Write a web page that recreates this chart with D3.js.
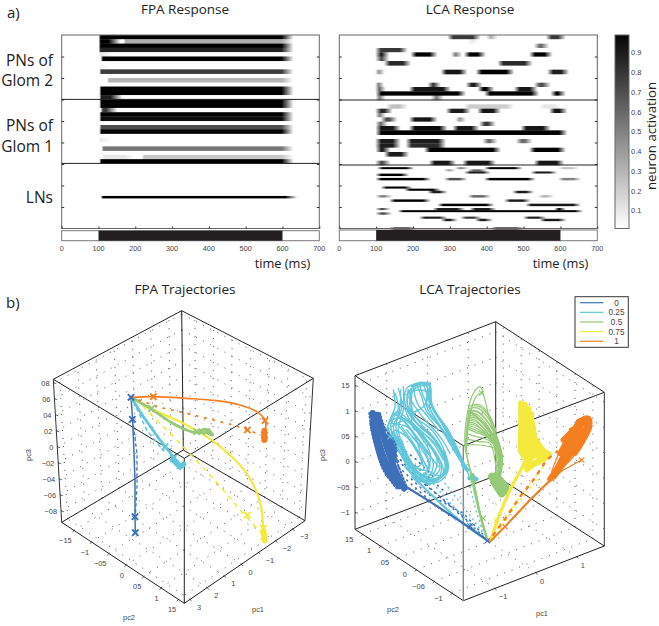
<!DOCTYPE html>
<html><head><meta charset="utf-8">
<script src="https://cdn.jsdelivr.net/npm/d3@7/dist/d3.min.js"></script>
<style>html,body{margin:0;padding:0;background:#fff}svg{display:block}text{font-family:"Liberation Sans",sans-serif;fill:#444}.big{font-family:"Open Sans",sans-serif;fill:#222}</style>
</head><body><svg id="c" width="659" height="626"></svg>
<script>
// ---------- heatmap data: each row is a list of [startMs,endMs,activation]
const timeTicks=[0,100,200,300,400,500,600,700];
const stimulus=[100,600];
const colorTicks=[0.1,0.2,0.3,0.4,0.5,0.6,0.7,0.8,0.9];
const fpaGlom2=[[[102,600,1]],[[102,130,1],[170,600,.32]],[[102,600,1]],[[102,600,.88]],[[102,108,.1]],[[108,600,1]],[],[[102,106,.05]],[[104,600,.78]],[],[[125,600,.3]],[],[[104,600,1]],[[104,600,1]],[[104,135,.9]]];
const fpaGlom1=[[[104,600,1]],[[104,600,1]],[[108,122,.8]],[[104,600,1]],[[104,600,.97]],[],[[104,600,.7]],[[104,600,1]],[],[[102,108,.08]],[],[[110,600,.55]],[],[[112,170,.1],[220,600,.22]],[[104,600,1]]];
const fpaLN=[[],[],[],[],[],[],[],[],[],[],[],[],[],[],[],[[108,610,1]],[],[],[],[],[],[],[],[],[],[],[],[],[],[]];
const lcaGlom2=[[[300,372,.8],[405,418,.3],[567,603,.8]],[[355,365,.08]],[[535,558,.6]],[[104,174,.8]],[[104,124,.9],[200,255,1],[310,322,.5],[345,386,1],[522,567,1]],[[105,124,.7]],[[128,183,.85],[436,513,.85]],[],[[104,112,.4],[282,336,.95],[377,463,1],[571,612,.9]],[],[],[[104,110,.5],[246,264,.8],[350,377,.9],[535,562,.7]],[[104,114,.6],[196,291,.95],[382,409,1],[481,526,.95]],[[105,332,1],[400,531,1],[580,603,1]],[[105,114,.5],[255,272,.5]]];
const lcaGlom1=[[],[[133,174,.25],[345,463,.2],[548,590,.1]],[[104,133,.85],[296,345,.9],[381,427,.95],[576,607,.95]],[[105,114,.5]],[[119,146,.7],[196,255,.95],[322,332,.4]],[[105,119,.6],[386,413,.8]],[[105,155,.95],[196,282,.97],[314,368,.95],[499,562,.95]],[[105,607,1]],[],[[104,155,.9],[187,278,.9],[395,418,.6],[486,513,.6]],[[104,155,.9],[187,278,.85]],[[105,128,.9],[237,427,1],[522,603,1]],[[128,178,.9]],[],[[104,128,.7],[250,305,.95],[341,413,.95],[535,599,.95]]];
const lcaLN=[[],[[109,192,1],[320,340,.5],[400,486,1],[600,640,.25]],[[290,305,.4],[355,390,.6]],[[345,400,.9],[526,580,.9]],[[105,178,1]],[],[[105,237,1],[291,336,.7],[400,521,1],[600,645,.5]],[],[],[],[[119,187,1]],[[183,264,1]],[[246,282,.9],[476,517,.9]],[],[[105,132,.5],[355,400,.6],[545,572,.3]],[],[[142,237,1],[454,508,.9]],[],[[273,409,1],[512,644,.95]],[],[[105,128,.7],[260,330,.9],[360,415,.9],[590,603,1]],[[165,650,1]],[[105,132,.7]],[],[[223,282,.9],[335,375,.8],[505,550,.9]],[[282,310,.9],[375,405,.9],[550,605,.9]],[],[],[],[[142,196,.9],[418,490,.9]]];

// ---------- trajectory data, in reference picture plane units
const legendLabels=["0","0.25","0.5","0.75","1"];
const seriesColors=["#3d70b8","#62c7db","#96ca78","#f3ea3c","#f47e20"];
const fpaBlue=[[393,352],[398,420],[402,520],[405,600],[405,710],[406,758]];
const fpaBlueDash=[[398,420],[411,520],[411,620],[406,710]];
const fpaCyan=[[393,352],[430,410],[480,480],[520,530],[543,556]];
const fpaCyanDash=[[410,385],[440,450],[490,512]];
const fpaCyanBlob=[[518,540],[540,562],[552,552]];
const fpaGreen=[[393,352],[450,385],[510,425],[560,450],[590,458],[605,450],[625,450],[638,465],[618,458],[595,458]];
const fpaYellow=[[393,352],[450,385],[540,425],[620,470],[690,525],[740,580],[770,635],[785,690],[790,750],[793,780]];
const fpaYellowDash=[[410,360],[460,410],[540,490],[640,595],[720,690],[790,765]];
const fpaOrange=[[393,352],[460,350],[560,355],[650,362],[720,375],[770,395],[795,420],[797,450],[793,478]];
const fpaOrangeDash=[[393,352],[480,382],[560,400],[640,420],[700,435],[742,450],[775,462]];
const fpaBlobs=[[[790,755],[794,782]],[[793,452],[793,480]]];
const fpaMarkers=[[[393,352],[397,418],[405,710],[406,758]],[[495,500],[520,535]],[[455,385],[590,455],[620,455]],[[742,705],[790,745],[792,770]],[[460,350],[795,422],[742,450],[793,465]]];

const lcaBlueBlob=[[[128,400],[135,440],[150,500],[172,560],[208,618]],[[142,405],[155,450],[172,505],[195,570],[222,625]],[[128,430],[142,495],[160,550],[195,605]],[[172,470],[185,500],[190,540]]];
const lcaBlueEdge=[[[118,400],[125,450],[140,510],[160,570],[200,625]],[[150,400],[165,445],[195,490],[200,540],[232,625]]];
const lcaBlueTail=[[215,612],[300,665],[400,730],[478,785]];
const lcaBlueDots=[[[190,530],[280,610],[380,690],[460,770]],[[175,500],[240,570],[340,660],[430,740]],[[205,560],[290,640],[400,700],[470,775]],[[200,510],[270,570],[350,640]],[[185,480],[260,540],[320,600]],[[230,600],[320,680],[440,755]]];
const lcaCyan=[
[[190,330],[195,380],[175,440],[200,500],[240,560],[280,600],[330,595],[350,560],[335,510],[300,460],[250,420],[225,370],[230,325],[270,310],[300,320],[305,380],[355,450],[400,545],[420,595]],
[[205,325],[215,385],[190,440],[215,510],[255,570],[295,605],[340,585],[345,540],[315,480],[270,440],[235,390],[240,330],[285,312],[295,330],[300,385],[345,465],[395,550]],
[[220,320],[220,390],[205,450],[230,520],[270,580],[310,600],[345,570],[335,520],[295,470],[250,445],[245,385],[250,330],[290,318],[290,380],[335,450],[385,530]],
[[185,440],[235,420],[280,470],[320,530],[310,580],[265,580],[225,520],[205,470]],
[[175,430],[230,440],[275,490],[310,550],[295,590],[250,570],[215,500]],
[[200,400],[250,440],[300,500],[335,560],[320,600],[270,600],[230,540],[195,470]],
[[215,360],[245,430],[290,480],[330,540],[340,580],[300,610],[255,580],[225,530],[185,460]],
[[240,340],[250,400],[280,440],[320,490],[345,540],[345,580]],
[[225,345],[265,330],[295,340],[280,380],[240,400]],
[[180,425],[200,395],[225,410],[265,460],[300,520],[290,570],[255,560]],
[[195,450],[230,470],[265,520],[280,570],[245,550],[215,480]],
[[260,315],[275,350],[290,395],[330,440],[370,490],[400,555]],
[[210,410],[255,470],[275,530],[300,575],[335,590]],
[[195,340],[205,385],[182,435],[205,505],[250,575],[290,610],[335,600],[355,565],[340,505],[305,450],[255,410],[232,375],[235,330]],
[[212,330],[210,380],[198,445],[222,515],[262,575],[303,600],[350,575],[342,525],[305,465],[262,432],[240,385],[245,325]],
[[182,420],[220,415],[270,455],[310,515],[330,565],[300,595],[258,575],[222,510],[190,455]],
[[188,400],[225,425],[265,480],[295,540],[285,585],[240,560],[208,490],[180,445]],
[[230,450],[270,500],[300,560],[270,590]],
[[215,440],[260,505],[295,570]],
[[200,430],[245,490],[275,550],[250,565]],
[[245,470],[285,510],[325,560]],
[[260,440],[310,490],[340,540]],
[[250,320],[262,370],[290,405],[325,450]],
[[235,350],[255,380],[285,420],[330,470],[360,520]],
[[268,312],[285,360],[320,420],[365,490],[395,540]],
[[280,312],[298,360],[335,430],[375,500]],
[[175,435],[172,445],[210,520],[255,590],[300,615]]];
const lcaCyanThick=[[[300,320],[305,375],[350,450],[390,530],[412,570]],[[245,318],[270,309],[300,312]],[[290,600],[330,592],[350,560],[340,515]]];
const lcaCyanTail=[[[245,590],[300,640],[400,730],[470,782]],[[225,560],[280,620],[380,715],[455,770]]];
const lcaCyanBlob=[[[418,595],[440,597]],[[428,585],[430,605]],[[398,555],[412,570]]];
const lcaCyanDots=[[[430,605],[445,680],[470,770]],[[345,610],[400,680],[460,760]],[[300,600],[380,690],[450,760]],[[420,620],[440,700],[465,765]]];
const lcaGreen=[
[[470,775],[450,700],[430,600],[405,500],[412,400],[430,340],[450,320],[462,350],[480,420],[500,480],[515,540],[505,590]],
[[470,775],[445,690],[425,600],[410,510],[418,420],[435,355],[455,335]],
[[416,385],[445,385],[475,415],[497,460],[510,500],[510,550],[500,590]],
[[418,390],[445,395],[470,420],[495,465],[512,510],[505,560]],
[[416,397],[440,403],[468,430],[492,470],[515,520],[505,585]],
[[416,405],[440,412],[465,438],[490,475],[512,525],[498,590]],
[[414,415],[440,422],[462,445],[488,480],[507,530],[510,590]],
[[413,425],[438,432],[460,455],[490,490],[505,535],[505,595]],
[[412,435],[440,445],[465,462],[490,492],[500,540],[512,600]],
[[410,445],[440,458],[470,470],[497,500],[510,545]],
[[408,460],[440,470],[475,480],[505,515],[495,580]],
[[407,475],[445,485],[480,490],[495,540],[498,590]],
[[425,375],[450,375],[478,405],[497,450]],
[[405,495],[450,495],[495,505],[512,520]],
[[418,378],[448,380],[478,410],[498,455]],
[[416,393],[445,398],[472,425],[498,468],[514,515]],
[[415,410],[442,417],[468,442],[493,480],[512,530]],
[[413,420],[440,427],[465,450],[492,485],[508,530]],
[[412,430],[440,438],[468,458],[494,490],[506,540]],
[[411,440],[440,452],[470,466],[496,495],[512,550],[510,590]],
[[498,470],[515,525],[505,590]],[[503,480],[518,535],[510,595]],[[495,475],[510,530],[498,590]],[[492,480],[505,540],[490,590]]];
const lcaGreenThick=[[[472,778],[450,700],[435,630],[425,585]],[[418,395],[440,410],[470,440],[495,475]],[[408,500],[412,440],[420,390]]];
const lcaGreenBlob=[[[486,590],[510,610],[530,632]],[[492,605],[515,640]],[[500,590],[525,620]]];
const lcaYellow=[[[572,368],[572,450],[572,505],[590,545]],[[584,372],[590,450],[620,520]],[[605,402],[600,470],[605,520],[640,528]],[[596,385],[600,450],[630,510]],[[590,560],[600,530],[610,470]],[[620,480],[640,510],[658,522]],[[575,480],[600,520],[650,530],[610,555],[590,570]],[[575,400],[578,470],[580,520],[600,540]],[[590,420],[585,480],[610,530]],[[570,510],[590,540],[620,550]],[[610,500],[640,520],[620,545],[595,560]],[[600,400],[610,440],[615,490]]];
const lcaYellowFan=[[585,375],[590,430],[585,490],[600,530]];
const lcaYellowTail=[[482,782],[510,700],[545,620],[575,565],[590,530]];
const lcaYellowDots=[[[485,770],[540,690],[600,610],[640,560]],[[495,770],[555,680],[620,600]]];
const lcaOrangeLine=[[485,782],[525,740],[600,660],[660,600],[700,570],[755,540]];
const lcaOrangeTail=[[480,785],[525,740],[600,660],[665,597]];
const lcaOrangeBlob=[[[660,597],[690,550],[720,490],[750,440],[772,420]],[[672,590],[705,545],[745,490],[775,430]],[[700,480],[740,440],[770,415]],[[745,425],[775,415],[778,440],[755,480]],[[685,570],[720,510],[700,510]],[[735,480],[760,470],[770,440]],[[690,520],[720,470],[745,430],[765,415]],[[770,420],[778,440],[760,480],[735,520]],[[725,450],[745,470],[755,450]],[[700,530],[730,500],[750,470]]];
const lcaOrangeThin=[[[680,575],[720,520],[750,500]],[[670,575],[705,505],[740,450]],[[665,575],[700,490],[745,425]],[[700,560],[730,530],[760,470]]];
const lcaOrangeDash=[[490,765],[530,710],[570,650],[610,600],[650,540],[680,515]];
const lcaMarkers=[[[420,738],[472,782]],[[180,470],[430,597],[405,560]],[[455,340],[460,715],[430,600]],[[500,720],[603,405],[590,560]],[[525,740],[755,540],[665,597]]];

// ---------- axis tick labels (as printed in the figure)
const fpaPc3Labels=["08","06","04","02","0","−02","−04","−06","−08"];
const fpaPc2Labels=["−15","−1","−05","0","05","1","15"];
const fpaPc1Labels=["−3","−2","−1","0","1","2","3"];
const lcaPc3Labels=["15","1","05","0","−05","−1"];
const lcaPc2Labels=["15","1","05","0","−06","−1"];
const lcaPc1Labels=["−1","0","1"];

const svg=d3.select("#c"),defs=svg.append("defs");
defs.append("filter").attr("id","soft").attr("x","-2%").attr("y","-2%").attr("width","104%").attr("height","104%")
  .append("feGaussianBlur").attr("stdDeviation","0.6 0.7");
defs.append("filter").attr("id","soft2").attr("filterUnits","userSpaceOnUse").attr("x",0).attr("y",280).attr("width",659).attr("height",346)
  .append("feGaussianBlur").attr("stdDeviation","0.3");
const gray=d3.scaleLinear([0,1],["#ffffff","#050505"]);
let gid=0;

function stops(blobs,f){
  const s=[[0,0]];let prev=null;
  for(const [a,b,v] of blobs){
    const w=Math.min(f.in1,(b-a)*.45), e=Math.min(-f.out0,(b-a)*.45);
    if(prev===null||a+f.in0>=prev+f.out1){ if(prev!==null)s.push([prev+f.out1,0]); s.push([a+f.in0,0]); }
    s.push([a+w,v],[b-e,v]);prev=b;
  }
  if(prev!==null)s.push([prev+f.out1,0]);
  s.push([700,0]);return s;
}
function heatPanel(x0,x1,title,tcx,groups,yb,f,stimTop){
  const x=d3.scaleLinear([0,700],[x0,x1]);
  const y=d3.scaleLinear([0,45],[35,228.5]);
  const g=svg.append("g");
  const hm=g.append("g").attr("filter","url(#soft)");
  groups.forEach((rows,gi)=>{
    const band=d3.scaleBand(d3.range(rows.length),[yb[gi],yb[gi+1]]);
    rows.forEach((blobs,i)=>{
      if(!blobs.length)return;
      const id="h"+(gid++);
      const lg=defs.append("linearGradient").attr("id",id);
      stops(blobs,f).forEach(([t,v])=>lg.append("stop").attr("offset",Math.max(0,Math.min(1,t/700))).attr("stop-color",gray(v)));
      hm.append("rect").attr("x",x(0)).attr("y",band(i)).attr("width",x(700)-x(0)).attr("height",band.bandwidth()+.3).attr("fill",`url(#${id})`);
    });
  });
  g.append("rect").attr("x",x0).attr("y",35).attr("width",x1-x0).attr("height",193.5).attr("fill","none").attr("stroke","#666").attr("stroke-width",1);
  const axL=g.append("g").attr("transform",`translate(${x0},0)`).call(d3.axisLeft(y).tickValues(d3.range(5,45,5)).tickSize(-2.5).tickFormat(""));
  const axR=g.append("g").attr("transform",`translate(${x1},0)`).call(d3.axisRight(y).tickValues(d3.range(5,45,5)).tickSize(-2.5).tickFormat(""));
  const axB=g.append("g").attr("transform","translate(0,228.5)").call(d3.axisBottom(x).tickValues(timeTicks).tickSize(-2).tickFormat(""));
  [axL,axR,axB].forEach(a=>{a.select(".domain").remove();a.selectAll("line").attr("stroke","#333");});
  yb.slice(1,3).forEach(v=>g.append("line").attr("x1",x0).attr("x2",x1).attr("y1",v).attr("y2",v).attr("stroke","#222").attr("stroke-width",1));
  g.append("rect").attr("x",x0).attr("y",stimTop).attr("width",x1-x0).attr("height",240.7-stimTop).attr("fill","#fff").attr("stroke","#777").attr("stroke-width",1);
  g.append("rect").attr("x",x(stimulus[0])).attr("y",stimTop).attr("width",x(stimulus[1])-x(stimulus[0])).attr("height",240.7-stimTop).attr("fill","#231f20");
  g.selectAll(".tl").data(timeTicks).join("text").attr("x",d=>x(d)).attr("y",251).attr("text-anchor","middle").attr("font-size",7.3).text(d=>d);
  svg.append("text").attr("class","big").attr("x",tcx).attr("y",14).attr("text-anchor","middle").attr("font-size",13.5).text(title);
  svg.append("text").attr("class","big").attr("x",x1-9).attr("y",267.5).attr("text-anchor","end").attr("font-size",12.8).text("time (ms)");
}
heatPanel(61.7,319.3,"FPA Response",185,[fpaGlom2,fpaGlom1,fpaLN],[35,99.4,163.4,228.5],{in0:-2,in1:4,out0:-2,out1:30},230.7);
heatPanel(339.3,597.3,"LCA Response",470,[lcaGlom2,lcaGlom1,lcaLN],[35,100,165,229.5],{in0:-7,in1:9,out0:-10,out1:12},230);

// colorbar
{
  const y=d3.scaleLinear([0.01,0.99],[228.5,35]);
  const lg=defs.append("linearGradient").attr("id","cb").attr("x1",0).attr("x2",0).attr("y1",1).attr("y2",0);
  d3.range(0,1.01,.1).forEach(t=>lg.append("stop").attr("offset",t).attr("stop-color",gray(t)));
  svg.append("rect").attr("x",615).attr("y",35).attr("width",14).attr("height",193.5).attr("fill","url(#cb)").attr("stroke","#666");
  svg.selectAll(".cbt").data(colorTicks).join("text").attr("x",631).attr("y",d=>y(d)+2.7).attr("font-size",7.5).text(d=>d);
  svg.append("text").attr("class","big").attr("transform","translate(656,136) rotate(-90)").attr("text-anchor","middle").attr("font-size",13.2).text("neuron activation");
}
// left labels and titles
[["a)",7,18,15,"start"],["b)",6,308,15,"start"],["PNs of",53,66,15.5,"end"],["Glom 2",53,86,15.5,"end"],["PNs of",53,131,15.5,"end"],["Glom 1",53,152,15.5,"end"],["LNs",53,203,15.5,"end"],["FPA Trajectories",185,294,13.5,"middle"],["LCA Trajectories",470,294,13.5,"middle"]]
.forEach(([t,x,y,s,a])=>svg.append("text").attr("class","big").attr("x",x).attr("y",y).attr("font-size",s).attr("text-anchor",a).text(t));

// ---------- 3-D boxes
function lerp(a,b,t){return [a[0]+(b[0]-a[0])*t,a[1]+(b[1]-a[1])*t];}
function drawBox(c,o){
  const g=svg.append("g"),L=d3.line();
  const seg=(a,b,col,w,dash)=>g.append("path").attr("d",L([a,b])).attr("fill","none").attr("stroke",col||"#222").attr("stroke-width",w||1).attr("stroke-dasharray",dash||null);
  const dotCol="#555",dash="1 7";
  o.t3.forEach(t=>{const a=lerp(c.L,c.BL,t),b=lerp(c.T,c.K,t),d=lerp(c.R,c.BR,t);seg(a,b,dotCol,1,dash);seg(b,d,dotCol,1,dash);});
  o.t2.forEach(t=>{const a=lerp(c.BL,c.B,t),b=lerp(c.K,c.BR,t),d=lerp(c.T,c.R,t);seg(a,b,dotCol,1,dash);seg(b,d,dotCol,1,dash);});
  o.t1.forEach(t=>{const a=lerp(c.B,c.BR,t),b=lerp(c.BL,c.K,t),d=lerp(c.L,c.T,t);seg(a,b,dotCol,1,dash);seg(b,d,dotCol,1,dash);});
  [[c.T,c.L],[c.T,c.R],[c.L,c.F],[c.R,c.F],[c.T,c.K],[c.BL,c.K],[c.BR,c.K],[c.BL,c.B],[c.BR,c.B]].forEach(p=>seg(p[0],p[1],"#222",1));
  seg(c.L,c.BL,"#333",1);seg(c.R,c.BR,"#333",1);seg(c.F,c.B,o.frontCol,o.frontW);
  const txt=(x,y,t,a)=>g.append("text").attr("x",x).attr("y",y).attr("font-size",7.4).attr("text-anchor",a).text(t);
  o.l3.forEach((t,i)=>{const p=lerp(c.L,c.BL,o.t3[i]);seg(p,[p[0]+3,p[1]+.8],"#333",.7);txt(p[0]-o.off3,p[1]+2.7,t,"end");});
  o.l2.forEach((t,i)=>{const p=lerp(c.BL,c.B,o.t2[i]);seg(p,[p[0]-1.5,p[1]+2],"#333",.7);txt(p[0]+o.off2[0],p[1]+o.off2[1]+2.7,t,"end");});
  o.l1.forEach((t,i)=>{const p=lerp(c.B,c.BR,o.t1[i]);seg(p,[p[0]+1.5,p[1]+2],"#333",.7);txt(p[0]+o.off1[0],p[1]+o.off1[1]+2.7,t,"start");});
  o.names.forEach(([t,x,y,r])=>g.append("text").attr("transform",`translate(${x},${y}) rotate(${r})`).attr("font-size",7.4).attr("text-anchor","middle").text(t));
}
const cubeF={T:[181.7,310.7],L:[53.3,379.3],R:[313.3,378.3],F:[184.3,458.3],K:[183.3,450],BL:[61.7,522.3],BR:[305,520.7],B:[184.3,603.3]};
const cubeL={T:[495.7,321.7],L:[355,375.7],R:[604.3,392.3],F:[463.3,445.7],K:[495.7,475.7],BL:[355,529.3],BR:[604.3,546],B:[463.3,600.7]};
drawBox(cubeF,{t3:d3.range(9).map(i=>.025+i*.112),t2:d3.range(7).map(i=>.1+i*.142),t1:d3.range(7).map(i=>.9-i*.142),l3:fpaPc3Labels,l2:fpaPc2Labels,l1:fpaPc1Labels,off3:4,off2:[-2.3,10.3],off1:[7,7.7],frontCol:"#222",frontW:1,
  names:[["pc3",30.5,455,-90],["pc3",325,455,-90],["pc2",129,620,0],["pc1",258,612,0]]});
drawBox(cubeL,{t3:d3.range(6).map(i=>.065+i*.165),t2:d3.range(6).map(i=>.07+i*.165),t1:[.225,.515,.805],l3:lcaPc3Labels,l2:lcaPc2Labels,l1:lcaPc1Labels,off3:5.5,off2:[-9.3,4.7],off1:[4,8.3],frontCol:"#888",frontW:1.4,
  names:[["pc2",393,612,0],["pc1",542,616,0]]});

// ---------- trajectories
const fx=d3.scaleLinear([0,990],[0,330]),fy=d3.scaleLinear([0,1038],[280,626]);
const lx=d3.scaleLinear([0,987],[330,659]),ly=d3.scaleLinear([0,1038],[280,626]);
const marks=svg.append("g").attr("filter","url(#soft2)");
function tr(sx,sy,pts,col,w,dash,curved){
  const ln=d3.line().x(d=>sx(d[0])).y(d=>sy(d[1]));
  if(curved)ln.curve(d3.curveCatmullRom.alpha(.5));
  marks.append("path").attr("d",ln(pts)).attr("fill","none").attr("stroke",col).attr("stroke-width",w)
    .attr("stroke-linecap","round").attr("stroke-linejoin","round").attr("stroke-dasharray",dash||null);
}
function mk(sx,sy,pts,col,size,w){
  marks.selectAll(null).data(pts).join("path").attr("d",d3.symbol(d3.symbolX,size)).attr("transform",d=>`translate(${sx(d[0])},${sy(d[1])})`)
    .attr("fill","none").attr("stroke",col).attr("stroke-width",w);
}
const [B,C,G,Y,O]=seriesColors;
// FPA
tr(fx,fy,fpaBlue,B,1.5);tr(fx,fy,fpaBlueDash,B,1.2,"2.5 3.5");
tr(fx,fy,fpaCyanDash,C,1.6,"3 4");tr(fx,fy,fpaCyan,C,2.8);tr(fx,fy,fpaCyanBlob,C,5);
tr(fx,fy,fpaYellowDash,Y,1.6,"3.5 6");tr(fx,fy,fpaYellow,Y,2.2,null,true);
tr(fx,fy,fpaGreen,G,2.8,null,true);
tr(fx,fy,fpaOrangeDash,O,1.7,"1.5 7");tr(fx,fy,fpaOrange,O,1.6,null,true);
tr(fx,fy,fpaBlobs[0],Y,5.5);tr(fx,fy,fpaBlobs[1],O,6);
fpaMarkers.forEach((m,i)=>mk(fx,fy,m,seriesColors[i],28,1.9));
// LCA
lcaBlueDots.forEach(p=>tr(lx,ly,p,B,1.6,"1 5"));
lcaCyanDots.forEach(p=>tr(lx,ly,p,C,1.4,"1 4"));
lcaCyan.forEach(p=>tr(lx,ly,p,C,1.4,null,true));
lcaCyanThick.forEach(p=>tr(lx,ly,p,C,2.6,null,true));
lcaCyanTail.forEach(p=>tr(lx,ly,p,C,1.7,null,true));
lcaCyanBlob.forEach(p=>tr(lx,ly,p,C,4));
lcaBlueBlob.forEach(p=>tr(lx,ly,p,B,6.5,null,true));
lcaBlueEdge.forEach(p=>tr(lx,ly,p,B,2.2,"1 2.5",true));
tr(lx,ly,lcaBlueTail,B,2.2);
lcaGreen.forEach(p=>tr(lx,ly,p,G,1.2,null,true));
lcaGreenThick.forEach(p=>tr(lx,ly,p,G,2.2,null,true));
lcaGreenBlob.forEach(p=>tr(lx,ly,p,G,8));
lcaYellowDots.forEach(p=>tr(lx,ly,p,Y,1.4,"1 4"));
lcaYellow.forEach(p=>tr(lx,ly,p,Y,5,null,true));
tr(lx,ly,lcaYellowFan,Y,6,null,true);
tr(lx,ly,lcaYellowTail,Y,3.2,null,true);
tr(lx,ly,lcaOrangeDash,O,2.4,"2.5 7");
tr(lx,ly,lcaOrangeLine,O,1.3);tr(lx,ly,lcaOrangeTail,O,2);
lcaOrangeBlob.forEach(p=>tr(lx,ly,p,O,5.5,null,true));
lcaOrangeThin.forEach(p=>tr(lx,ly,p,O,1.2,null,true));
lcaMarkers.forEach((m,i)=>mk(lx,ly,m,seriesColors[i],20,1.1));

// legend
{
  const g=svg.append("g");
  g.append("rect").attr("x",575).attr("y",296.7).attr("width",53.3).attr("height",50.6).attr("fill","#fff").attr("stroke","#333").attr("stroke-width",1);
  const y=d3.scalePoint(legendLabels,[302.7,341.3]);
  legendLabels.forEach((t,i)=>{
    g.append("line").attr("x1",580).attr("x2",603.5).attr("y1",y(t)).attr("y2",y(t)).attr("stroke",seriesColors[i]).attr("stroke-width",1.2);
    g.append("text").attr("x",616.5).attr("y",y(t)+3).attr("text-anchor","middle").attr("font-size",8.2).text(t);
  });
}
</script></body></html>
